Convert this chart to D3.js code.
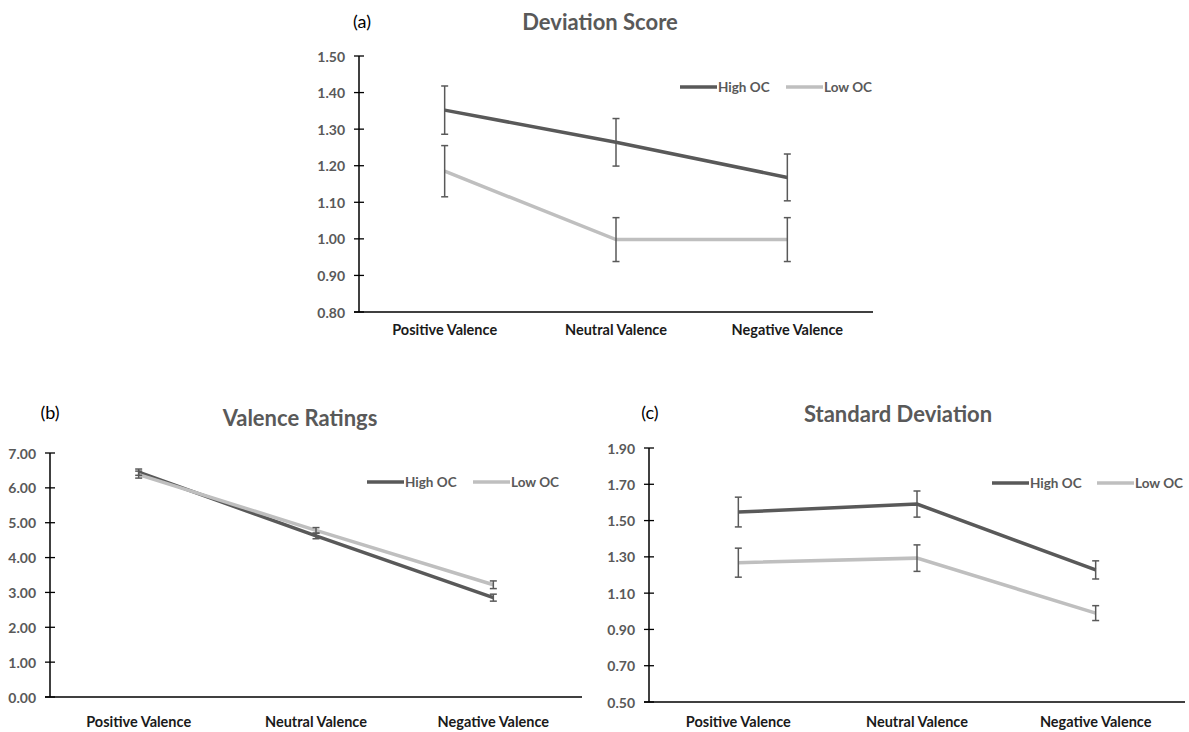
<!DOCTYPE html>
<html><head><meta charset="utf-8">
<script src="https://cdn.jsdelivr.net/npm/d3@7"></script>
<style>html,body{margin:0;padding:0;background:#fff;}svg{display:block;}</style>
</head><body>
<svg id="chart" width="1189" height="732"></svg>
<script>
// ---- DATA ----
const categories = ["Positive Valence", "Neutral Valence", "Negative Valence"];
const seriesNames = ["High OC", "Low OC"];

const devTicks = [0.80, 0.90, 1.00, 1.10, 1.20, 1.30, 1.40, 1.50];
const devHigh = [1.352, 1.264, 1.168];
const devHighErr = [0.066, 0.065, 0.064];
const devLow = [1.185, 0.998, 0.998];
const devLowErr = [0.070, 0.060, 0.060];

const valTicks = [0, 1, 2, 3, 4, 5, 6, 7];
const valHigh = [6.45, 4.62, 2.85];
const valHighErr = [0.09, 0.08, 0.10];
const valLow = [6.38, 4.78, 3.22];
const valLowErr = [0.10, 0.08, 0.11];

const sdTicks = [0.50, 0.70, 0.90, 1.10, 1.30, 1.50, 1.70, 1.90];
const sdHigh = [1.547, 1.591, 1.228];
const sdHighErr = [0.082, 0.072, 0.050];
const sdLow = [1.268, 1.293, 0.990];
const sdLowErr = [0.080, 0.073, 0.041];

// ---- STYLE ----
const darkCol = "#595959", lightCol = "#bfbfbf";
const font = "Lato, 'Open Sans', sans-serif";
const svg = d3.select("#chart");

function drawPanel(cfg) {
  const g = svg.append("g");
  const x = d3.scaleBand().domain(categories).range([cfg.x0, cfg.x1]);
  const y = d3.scaleLinear().domain([cfg.ticks[0], cfg.ticks[cfg.ticks.length - 1]]).range([cfg.y1, cfg.y0]);
  const cx = c => x(c) + x.bandwidth() / 2;

  // panel letter + title
  g.append("text").attr("x", cfg.letterX).attr("y", cfg.letterY).attr("font-family", font)
    .attr("font-size", 18).attr("fill", "#000").attr("text-anchor", "middle").attr("dominant-baseline", "central").text(cfg.letter);
  g.append("text").attr("x", cfg.titleX).attr("y", cfg.titleY).attr("font-family", font)
    .attr("font-size", 22).attr("font-weight", "bold").attr("fill", darkCol)
    .attr("text-anchor", "middle").attr("dominant-baseline", "central").text(cfg.title);

  // y axis
  g.append("line").attr("x1", cfg.x0).attr("x2", cfg.x0).attr("y1", y(cfg.ticks[cfg.ticks.length - 1])).attr("y2", cfg.y1)
    .attr("stroke", "#000").attr("stroke-width", 1.5);
  const tk = g.selectAll(".tk").data(cfg.ticks).enter().append("g");
  tk.append("line").attr("x1", cfg.x0 - 5).attr("x2", cfg.x0 + 5).attr("y1", d => y(d)).attr("y2", d => y(d))
    .attr("stroke", "#000").attr("stroke-width", 1.3);
  tk.append("text").attr("x", cfg.x0 - 14).attr("y", d => y(d)).attr("text-anchor", "end").attr("dominant-baseline", "central")
    .attr("font-family", font).attr("font-size", 14).attr("font-weight", "bold").attr("fill", darkCol)
    .text(d => d3.format(".2f")(d));

  // x axis
  g.append("line").attr("x1", cfg.x0 - 5).attr("x2", cfg.x1).attr("y1", cfg.y1).attr("y2", cfg.y1)
    .attr("stroke", "#000").attr("stroke-width", 1.5);
  g.selectAll(".cl").data(categories).enter().append("text")
    .attr("x", d => cx(d)).attr("y", cfg.labelY).attr("text-anchor", "middle").attr("dominant-baseline", "central")
    .attr("font-family", font).attr("font-size", 14.5).attr("font-weight", "bold").attr("fill", "#1a1a1a").text(d => d);

  // lines
  const line = d3.line().x((d, i) => cx(categories[i])).y(d => y(d));
  const series = [
    {vals: cfg.high, err: cfg.highErr, col: darkCol},
    {vals: cfg.low, err: cfg.lowErr, col: lightCol}
  ];
  series.forEach(s => {
    g.append("path").attr("d", line(s.vals)).attr("fill", "none").attr("stroke", s.col).attr("stroke-width", 3.5);
  });
  series.forEach(s => {
    s.vals.forEach((v, i) => {
      const px = cx(categories[i]);
      const e = s.err[i];
      g.append("line").attr("x1", px).attr("x2", px).attr("y1", y(v + e)).attr("y2", y(v - e)).attr("stroke", darkCol).attr("stroke-width", 1.5);
      [v + e, v - e].forEach(w => {
        g.append("line").attr("x1", px - 3.5).attr("x2", px + 3.5).attr("y1", y(w)).attr("y2", y(w)).attr("stroke", darkCol).attr("stroke-width", 1.5);
      });
    });
  });

  // legend
  const lcols = [darkCol, lightCol];
  seriesNames.forEach((n, i) => {
    const lx = cfg.legend[i];
    g.append("line").attr("x1", lx).attr("x2", lx + 37).attr("y1", cfg.legendY).attr("y2", cfg.legendY)
      .attr("stroke", lcols[i]).attr("stroke-width", 3.5);
    g.append("text").attr("x", lx + 38).attr("y", cfg.legendY).attr("dominant-baseline", "central")
      .attr("font-family", font).attr("font-size", 13.5).attr("font-weight", "bold").attr("fill", darkCol).text(n);
  });
}

drawPanel({letter: "(a)", letterX: 362, letterY: 21, title: "Deviation Score", titleX: 600, titleY: 21,
  x0: 359, x1: 873, y0: 56, y1: 312, ticks: devTicks, labelY: 329,
  high: devHigh, highErr: devHighErr, low: devLow, lowErr: devLowErr, legend: [680, 786], legendY: 87});
drawPanel({letter: "(b)", letterX: 50, letterY: 412, title: "Valence Ratings", titleX: 300, titleY: 417,
  x0: 50, x1: 582, y0: 453, y1: 697, ticks: valTicks, labelY: 721,
  high: valHigh, highErr: valHighErr, low: valLow, lowErr: valLowErr, legend: [367, 473], legendY: 482});
drawPanel({letter: "(c)", letterX: 650, letterY: 412, title: "Standard Deviation", titleX: 898, titleY: 413,
  x0: 649, x1: 1185, y0: 448, y1: 702, ticks: sdTicks, labelY: 721,
  high: sdHigh, highErr: sdHighErr, low: sdLow, lowErr: sdLowErr, legend: [992, 1097], legendY: 483});
</script>
</body></html>
